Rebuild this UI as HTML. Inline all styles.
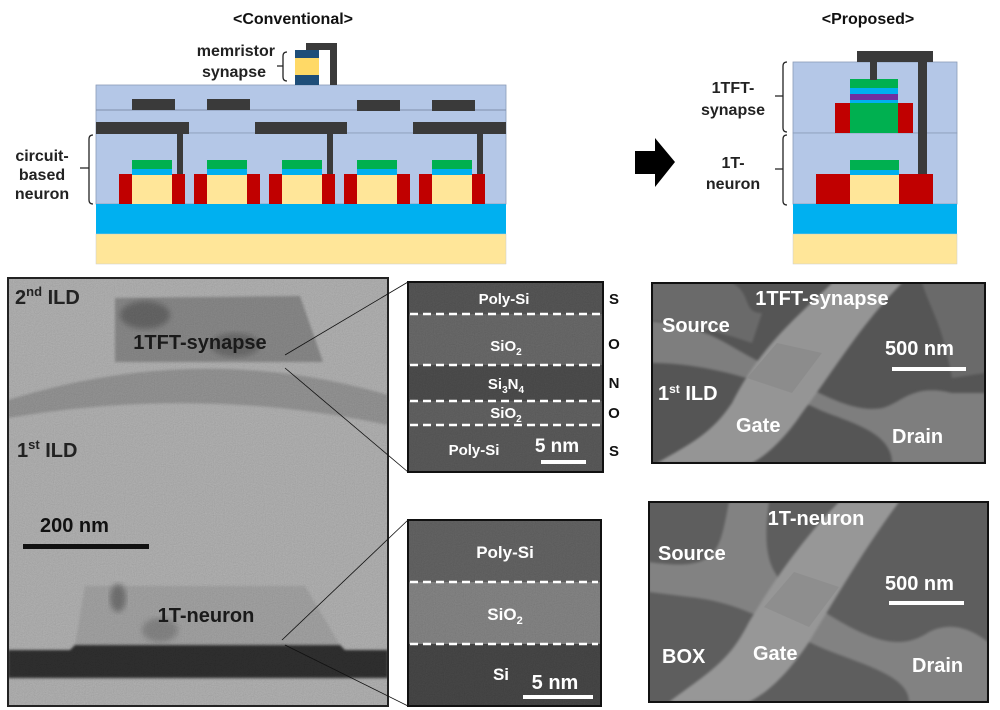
<!DOCTYPE html>
<html><head><meta charset="utf-8">
<style>
html,body{margin:0;padding:0;background:#fff;}
body{width:1000px;height:710px;overflow:hidden;position:relative;font-family:"Liberation Sans",sans-serif;}
svg{position:absolute;left:0;top:0;}
</style></head>
<body>
<svg width="1000" height="710" viewBox="0 0 1000 710">
<defs>
  <filter id="noise" x="0" y="0" width="100%" height="100%">
    <feTurbulence type="fractalNoise" baseFrequency="0.9" numOctaves="2" seed="3" result="t"/>
    <feColorMatrix type="saturate" values="0" in="t" result="g"/>
    <feComponentTransfer in="g" result="a"><feFuncA type="linear" slope="0" intercept="0.35"/></feComponentTransfer>
    <feComposite in="a" in2="SourceGraphic" operator="in" result="n"/>
    <feBlend in="SourceGraphic" in2="n" mode="multiply"/>
  </filter>
  <filter id="blur3"><feGaussianBlur stdDeviation="3"/></filter>
  <filter id="blur1"><feGaussianBlur stdDeviation="1.2"/></filter>
</defs>
<g font-weight="bold" fill="#222">

<!-- ===== Conventional ===== -->
<g>
  <text x="293" y="24" text-anchor="middle" font-size="16" font-weight="bold" fill="#111">&lt;Conventional&gt;</text>
  <rect x="96" y="85" width="410" height="48" fill="#b4c7e7" stroke="#8a9bb8" stroke-width="0.8"/>
  <line x1="96" y1="110" x2="506" y2="110" stroke="#7f8fab" stroke-width="1"/>
  <rect x="96" y="133" width="410" height="71" fill="#b4c7e7" stroke="#8a9bb8" stroke-width="0.8"/>
  <rect x="96" y="204" width="410" height="30" fill="#00b0f0"/>
  <rect x="96" y="234" width="410" height="30" fill="#ffe699" stroke="#ccc" stroke-width="0.5"/>
  <g fill="#3a3a3a">
    <rect x="132" y="99" width="43" height="11"/><rect x="207" y="99" width="43" height="11"/>
    <rect x="357" y="100" width="43" height="11"/><rect x="432" y="100" width="43" height="11"/>
    <rect x="96" y="122" width="93" height="12"/><rect x="255" y="122" width="92" height="12"/><rect x="413" y="122" width="93" height="12"/>
    <rect x="177" y="134" width="6" height="40"/><rect x="327" y="134" width="6" height="40"/><rect x="477" y="134" width="6" height="40"/>
  </g>
  <g>
    <g><rect x="119" y="174" width="13" height="30" fill="#c00000"/><rect x="132" y="175" width="40" height="29" fill="#ffe699"/><rect x="172" y="174" width="13" height="30" fill="#c00000"/><rect x="132" y="169" width="40" height="6" fill="#00b0f0"/><rect x="132" y="160" width="40" height="9" fill="#00b050"/></g>
    <g transform="translate(75,0)"><rect x="119" y="174" width="13" height="30" fill="#c00000"/><rect x="132" y="175" width="40" height="29" fill="#ffe699"/><rect x="172" y="174" width="13" height="30" fill="#c00000"/><rect x="132" y="169" width="40" height="6" fill="#00b0f0"/><rect x="132" y="160" width="40" height="9" fill="#00b050"/></g>
    <g transform="translate(150,0)"><rect x="119" y="174" width="13" height="30" fill="#c00000"/><rect x="132" y="175" width="40" height="29" fill="#ffe699"/><rect x="172" y="174" width="13" height="30" fill="#c00000"/><rect x="132" y="169" width="40" height="6" fill="#00b0f0"/><rect x="132" y="160" width="40" height="9" fill="#00b050"/></g>
    <g transform="translate(225,0)"><rect x="119" y="174" width="13" height="30" fill="#c00000"/><rect x="132" y="175" width="40" height="29" fill="#ffe699"/><rect x="172" y="174" width="13" height="30" fill="#c00000"/><rect x="132" y="169" width="40" height="6" fill="#00b0f0"/><rect x="132" y="160" width="40" height="9" fill="#00b050"/></g>
    <g transform="translate(300,0)"><rect x="119" y="174" width="13" height="30" fill="#c00000"/><rect x="132" y="175" width="40" height="29" fill="#ffe699"/><rect x="172" y="174" width="13" height="30" fill="#c00000"/><rect x="132" y="169" width="40" height="6" fill="#00b0f0"/><rect x="132" y="160" width="40" height="9" fill="#00b050"/></g>
  </g>
  <g>
    <rect x="295" y="50" width="24" height="8" fill="#1f4e79"/>
    <rect x="295" y="58" width="24" height="17" fill="#ffd966"/>
    <rect x="295" y="75" width="24" height="10" fill="#1f4e79"/>
    <path d="M306 43 H337 V85 H330 V50 H306 Z" fill="#3a3a3a"/>
  </g>
  <text x="275" y="56" text-anchor="end" font-size="16">memristor</text>
  <text x="266" y="77" text-anchor="end" font-size="16">synapse</text>
  <path d="M287 52 q-4 0 -4 4 v10 h-6 h6 v11 q0 4 4 4" fill="none" stroke="#222" stroke-width="1.3"/>
  <text x="42" y="161" text-anchor="middle" font-size="16"><tspan x="42">circuit-</tspan><tspan x="42" dy="19">based</tspan><tspan x="42" dy="19">neuron</tspan></text>
  <path d="M93 135 q-4 0 -4 4 v29 h-9 h9 v32 q0 4 4 4" fill="none" stroke="#222" stroke-width="1.3"/>
</g>

<!-- arrow -->
<path d="M635 151 H655 V138 L675 162 L655 187 V174 H635 Z" fill="#000"/>

<!-- ===== Proposed ===== -->
<g>
  <text x="868" y="24" text-anchor="middle" font-size="16" font-weight="bold" fill="#111">&lt;Proposed&gt;</text>
  <rect x="793" y="62" width="164" height="71" fill="#b4c7e7" stroke="#8a9bb8" stroke-width="0.8"/>
  <rect x="793" y="133" width="164" height="71" fill="#b4c7e7" stroke="#8a9bb8" stroke-width="0.8"/>
  <rect x="793" y="204" width="164" height="30" fill="#00b0f0"/>
  <rect x="793" y="234" width="164" height="30" fill="#ffe699" stroke="#ccc" stroke-width="0.5"/>
  <rect x="835" y="103" width="15" height="30" fill="#c00000"/><rect x="898" y="103" width="15" height="30" fill="#c00000"/>
  <rect x="850" y="103" width="48" height="30" fill="#00b050"/>
  <rect x="850" y="100" width="48" height="3" fill="#00b0f0"/>
  <rect x="850" y="94" width="48" height="6" fill="#7030a0"/>
  <rect x="850" y="88" width="48" height="6" fill="#00b0f0"/>
  <rect x="850" y="79" width="48" height="9" fill="#00b050"/>
  <rect x="816" y="174" width="34" height="30" fill="#c00000"/><rect x="899" y="174" width="34" height="30" fill="#c00000"/>
  <rect x="850" y="175" width="49" height="29" fill="#ffe699"/>
  <rect x="850" y="170" width="49" height="5" fill="#00b0f0"/>
  <rect x="850" y="160" width="49" height="10" fill="#00b050"/>
  <g fill="#3a3a3a"><rect x="857" y="51" width="76" height="11"/><rect x="870" y="62" width="7" height="18"/><rect x="918" y="51" width="9" height="123"/></g>
  <text x="733" y="93" text-anchor="middle" font-size="16"><tspan x="733">1TFT-</tspan><tspan x="733" dy="22">synapse</tspan></text>
  <text x="733" y="168" text-anchor="middle" font-size="16"><tspan x="733">1T-</tspan><tspan x="733" dy="21">neuron</tspan></text>
  <path d="M787 62 q-4 0 -4 4 v30 h-8 h8 v32 q0 4 4 4" fill="none" stroke="#222" stroke-width="1.3"/>
  <path d="M787 135 q-4 0 -4 4 v30 h-8 h8 v32 q0 4 4 4" fill="none" stroke="#222" stroke-width="1.3"/>
</g>

<!-- ===== TEM ===== -->
<g>
  <svg x="8" y="278" width="380" height="428" viewBox="8 278 380 428">
  <g filter="url(#noise)">
    <rect x="8" y="278" width="380" height="428" fill="#b8b8b8"/>
    <path d="M8 400 Q200 340 388 395 L388 425 Q200 385 8 418 Z" fill="#9a9a9a" filter="url(#blur1)"/>
    <path d="M115 298 L300 296 L323 362 L115 362 Z" fill="#8e8e8e" filter="url(#blur1)"/>
    <ellipse cx="145" cy="315" rx="25" ry="14" fill="#6a6a6a" filter="url(#blur3)"/>
    <ellipse cx="235" cy="345" rx="25" ry="12" fill="#707070" filter="url(#blur3)"/>
    <path d="M75 645 L85 586 L305 586 L340 645 Z" fill="#a9a9a9" filter="url(#blur1)"/>
    <ellipse cx="118" cy="598" rx="8" ry="14" fill="#777" filter="url(#blur3)"/>
    <ellipse cx="160" cy="630" rx="18" ry="12" fill="#8a8a8a" filter="url(#blur3)"/>
    <path d="M8 650 H70 L75 645 H340 L345 650 H388 V678 H8 Z" fill="#333" filter="url(#blur1)"/>
  </g>
  </svg>
  <rect x="8" y="278" width="380" height="428" fill="none" stroke="#222" stroke-width="2"/>
  <text x="15" y="304" font-size="20">2<tspan font-size="13" dy="-8">nd</tspan><tspan dy="8"> ILD</tspan></text>
  <text x="17" y="457" font-size="20">1<tspan font-size="13" dy="-8">st</tspan><tspan dy="8"> ILD</tspan></text>
  <text x="200" y="349" text-anchor="middle" font-size="20" fill="#1a1a1a">1TFT-synapse</text>
  <text x="206" y="622" text-anchor="middle" font-size="20" fill="#1a1a1a">1T-neuron</text>
  <text x="40" y="532" font-size="20" fill="#111">200 nm</text>
  <rect x="23" y="544" width="126" height="5" fill="#111"/>
</g>
<g stroke="#111" stroke-width="0.8">
  <line x1="285" y1="355" x2="408" y2="282"/><line x1="285" y1="368" x2="408" y2="472"/>
  <line x1="282" y1="640" x2="408" y2="520"/><line x1="285" y1="645" x2="408" y2="706"/>
</g>

<!-- ===== HRTEM upper ===== -->
<g>
  <svg x="408" y="282" width="195" height="190" viewBox="408 282 195 190">
  <g filter="url(#noise)">
    <rect x="408" y="282" width="195" height="190" fill="#5a5a5a"/>
    <rect x="408" y="314" width="195" height="51" fill="#6e6e6e"/>
    <rect x="408" y="365" width="195" height="36" fill="#505050"/>
    <rect x="408" y="401" width="195" height="24" fill="#666"/>
    <rect x="408" y="425" width="195" height="47" fill="#5e5e5e"/>
  </g>
  </svg>
  <rect x="408" y="282" width="195" height="190" fill="none" stroke="#111" stroke-width="2"/>
  <g stroke="#fff" stroke-width="2.5" stroke-dasharray="8 5"><line x1="410" y1="314" x2="600" y2="314"/><line x1="410" y1="365" x2="600" y2="365"/><line x1="410" y1="401" x2="600" y2="401"/><line x1="410" y1="425" x2="600" y2="425"/></g>
  <g fill="#fff" font-size="15" text-anchor="middle">
    <text x="504" y="304">Poly-Si</text>
    <text x="506" y="351">SiO<tspan font-size="10" dy="4">2</tspan></text>
    <text x="506" y="389">Si<tspan font-size="10" dy="4">3</tspan><tspan dy="-4">N</tspan><tspan font-size="10" dy="4">4</tspan></text>
    <text x="506" y="418">SiO<tspan font-size="10" dy="4">2</tspan></text>
    <text x="474" y="455">Poly-Si</text>
    <text x="557" y="452" font-size="19">5 nm</text>
  </g>
  <rect x="541" y="460" width="45" height="4" fill="#fff"/>
  <g font-size="15" fill="#111" text-anchor="middle">
    <text x="614" y="304">S</text><text x="614" y="349">O</text><text x="614" y="388">N</text><text x="614" y="418">O</text><text x="614" y="456">S</text>
  </g>
</g>

<!-- ===== HRTEM lower ===== -->
<g>
  <svg x="408" y="520" width="193" height="186" viewBox="408 520 193 186">
  <g filter="url(#noise)">
    <rect x="408" y="520" width="193" height="62" fill="#686868"/>
    <rect x="408" y="582" width="193" height="62" fill="#8a8a8a"/>
    <rect x="408" y="644" width="193" height="62" fill="#4a4a4a"/>
  </g>
  </svg>
  <rect x="408" y="520" width="193" height="186" fill="none" stroke="#111" stroke-width="2"/>
  <g stroke="#fff" stroke-width="2.5" stroke-dasharray="8 5"><line x1="410" y1="582" x2="598" y2="582"/><line x1="410" y1="644" x2="598" y2="644"/></g>
  <g fill="#fff" font-size="17" text-anchor="middle">
    <text x="505" y="558">Poly-Si</text>
    <text x="505" y="620">SiO<tspan font-size="11" dy="4">2</tspan></text>
    <text x="501" y="680">Si</text>
    <text x="555" y="689" font-size="20">5 nm</text>
  </g>
  <rect x="523" y="695" width="70" height="4" fill="#fff"/>
</g>

<!-- ===== SEM upper ===== -->
<g>
  <svg x="652" y="283" width="333" height="180" viewBox="0 0 333 180">
    <rect width="333" height="180" fill="#555"/>
    <path d="M0 38 C60 45 70 60 110 80 C170 112 200 130 230 125 C250 120 260 100 300 110 L333 110 L333 180 L240 180 C240 150 200 140 170 128 L110 100 C80 90 40 80 0 80 Z" fill="#7e7e7e" filter="url(#blur1)"/>
    <path d="M0 0 H80 C100 10 90 30 110 30 L100 60 C70 50 40 40 0 38 Z" fill="#6a6a6a" filter="url(#blur1)"/>
    <path d="M270 0 H333 V90 L300 95 C290 40 280 30 270 0 Z" fill="#6a6a6a" filter="url(#blur1)"/>
    <path d="M5 180 C40 160 60 150 80 120 C110 60 150 30 180 0 L250 0 C210 40 180 90 150 130 C130 160 110 175 100 180 Z" fill="#959595" filter="url(#blur1)"/>
    <path d="M95 95 L125 60 L170 70 L140 110 Z" fill="#8c8c8c"/>
  </svg>
  <rect x="652" y="283" width="333" height="180" fill="none" stroke="#111" stroke-width="2"/>
  <g fill="#fff" font-size="20">
    <text x="822" y="305" text-anchor="middle">1TFT-synapse</text>
    <text x="662" y="332">Source</text>
    <text x="885" y="355">500 nm</text>
    <text x="658" y="400">1<tspan font-size="12" dy="-7">st</tspan><tspan dy="7"> ILD</tspan></text>
    <text x="736" y="432">Gate</text>
    <text x="892" y="443">Drain</text>
  </g>
  <rect x="892" y="367" width="74" height="4" fill="#fff"/>
</g>

<!-- ===== SEM lower ===== -->
<g>
  <svg x="649" y="502" width="339" height="200" viewBox="0 0 339 200">
    <rect width="339" height="200" fill="#5e5e5e"/>
    <path d="M0 60 C70 70 70 50 80 0 L120 0 C110 70 130 80 160 100 C220 140 250 150 280 130 C300 120 320 125 339 140 L339 200 L260 200 C260 170 200 160 160 140 C120 120 90 100 40 95 L0 90 Z" fill="#828282" filter="url(#blur1)"/>
    <path d="M20 200 C60 170 80 160 100 120 C130 70 160 30 190 0 L250 0 C220 40 190 90 160 140 C140 170 120 190 100 200 Z" fill="#979797" filter="url(#blur1)"/>
    <path d="M115 105 L145 70 L190 85 L160 125 Z" fill="#8e8e8e"/>
  </svg>
  <rect x="649" y="502" width="339" height="200" fill="none" stroke="#111" stroke-width="2"/>
  <g fill="#fff" font-size="20">
    <text x="816" y="525" text-anchor="middle">1T-neuron</text>
    <text x="658" y="560">Source</text>
    <text x="885" y="590">500 nm</text>
    <text x="662" y="663">BOX</text>
    <text x="753" y="660">Gate</text>
    <text x="912" y="672">Drain</text>
  </g>
  <rect x="889" y="601" width="75" height="4" fill="#fff"/>
</g>

</g>
</svg>
</body></html>
